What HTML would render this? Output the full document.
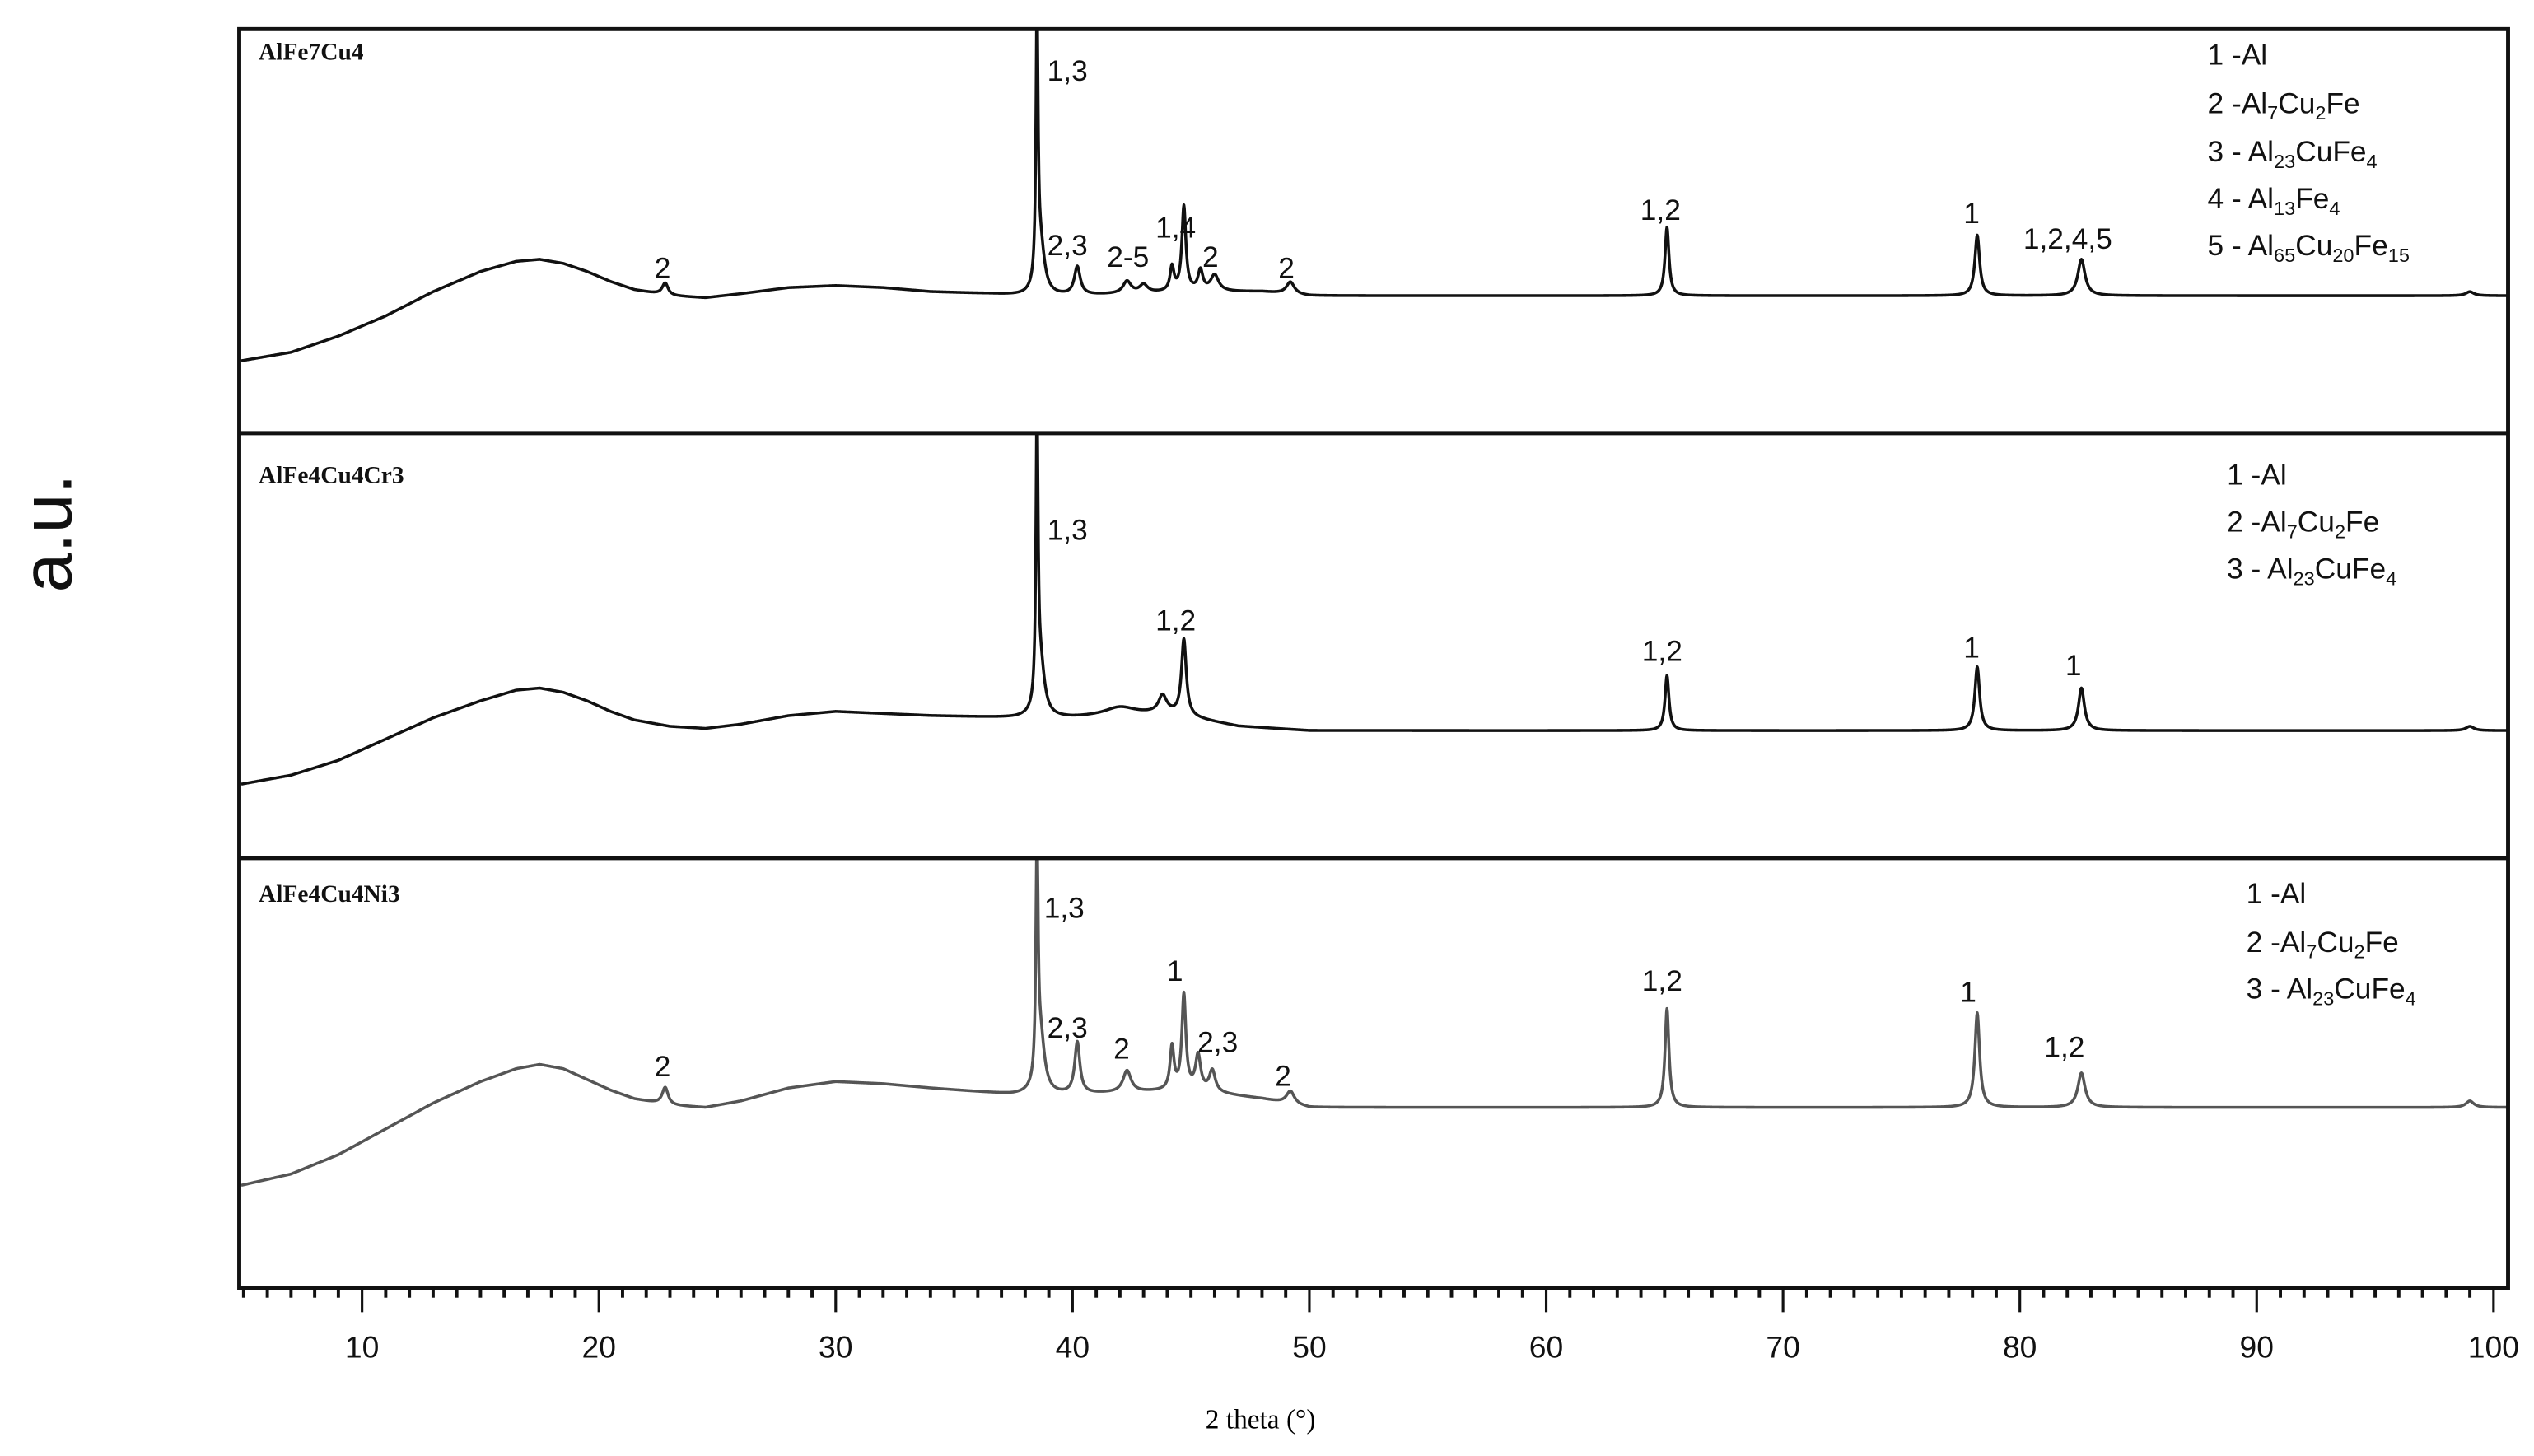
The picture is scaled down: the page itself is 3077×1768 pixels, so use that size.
<!DOCTYPE html>
<html><head><meta charset="utf-8"><style>
html,body{margin:0;padding:0;background:#fff}
svg{display:block}
.lbl{font-family:"Liberation Sans",sans-serif;font-size:18px;fill:#111}
.leg{font-family:"Liberation Sans",sans-serif;font-size:18px;fill:#111}
.ttl{font-family:"Liberation Serif",serif;font-weight:bold;font-size:15px;fill:#111}
.tick{font-family:"Liberation Sans",sans-serif;font-size:19px;fill:#111}
</style></head><body>
<svg id="chart" width="3077" height="1768" viewBox="0 0 1568 901" xmlns="http://www.w3.org/2000/svg">
<rect x="0" y="0" width="1568" height="901" fill="#fff"/>
<g id="curves"></g>
<g id="frames" fill="none" stroke="#111" stroke-width="2.5">
<rect x="148" y="18" width="1404" height="779"/>
<line x1="148" y1="268" x2="1552" y2="268"/>
<line x1="148" y1="531" x2="1552" y2="531"/>
</g>
<g id="ticks"></g>
<text x="780" y="884" text-anchor="middle" font-family="Liberation Serif,serif" font-size="17">2 theta (°)</text>
<text transform="translate(44,330) rotate(-90)" text-anchor="middle" font-family="Liberation Sans,sans-serif" font-size="44" fill="#111">a.u.</text>

<text class="ttl" x="160" y="37">AlFe7Cu4</text>
<text class="ttl" x="160" y="299">AlFe4Cu4Cr3</text>
<text class="ttl" x="160" y="558">AlFe4Cu4Ni3</text>

<g>
<text class="lbl" x="405" y="172">2</text><text class="lbl" x="648" y="50">1,3</text>
<text class="lbl" x="648" y="158">2,3</text><text class="lbl" x="685" y="165">2-5</text>
<text class="lbl" x="715" y="147">1,4</text><text class="lbl" x="744" y="165">2</text>
<text class="lbl" x="791" y="172">2</text><text class="lbl" x="1015" y="136">1,2</text>
<text class="lbl" x="1215" y="138">1</text><text class="lbl" x="1252" y="154">1,2,4,5</text>
</g>
<g>
<text class="leg" x="1366" y="40">1 -Al</text>
<text class="leg" x="1366" y="70">2 -Al<tspan font-size="12" dy="4">7</tspan><tspan dy="-4">Cu</tspan><tspan font-size="12" dy="4">2</tspan><tspan dy="-4">Fe</tspan></text>
<text class="leg" x="1366" y="100">3 - Al<tspan font-size="12" dy="4">23</tspan><tspan dy="-4">CuFe</tspan><tspan font-size="12" dy="4">4</tspan></text>
<text class="leg" x="1366" y="129">4 - Al<tspan font-size="12" dy="4">13</tspan><tspan dy="-4">Fe</tspan><tspan font-size="12" dy="4">4</tspan></text>
<text class="leg" x="1366" y="158">5 - Al<tspan font-size="12" dy="4">65</tspan><tspan dy="-4">Cu</tspan><tspan font-size="12" dy="4">20</tspan><tspan dy="-4">Fe</tspan><tspan font-size="12" dy="4">15</tspan></text>
</g>
<g>
<text class="lbl" x="648" y="334">1,3</text><text class="lbl" x="715" y="390">1,2</text>
<text class="lbl" x="1016" y="409">1,2</text><text class="lbl" x="1215" y="407">1</text>
<text class="lbl" x="1278" y="418">1</text>
</g>
<g>
<text class="leg" x="1378" y="300">1 -Al</text>
<text class="leg" x="1378" y="329">2 -Al<tspan font-size="12" dy="4">7</tspan><tspan dy="-4">Cu</tspan><tspan font-size="12" dy="4">2</tspan><tspan dy="-4">Fe</tspan></text>
<text class="leg" x="1378" y="358">3 - Al<tspan font-size="12" dy="4">23</tspan><tspan dy="-4">CuFe</tspan><tspan font-size="12" dy="4">4</tspan></text>
</g>
<g>
<text class="lbl" x="405" y="666">2</text><text class="lbl" x="646" y="568">1,3</text>
<text class="lbl" x="648" y="642">2,3</text><text class="lbl" x="689" y="655">2</text>
<text class="lbl" x="722" y="607">1</text><text class="lbl" x="741" y="651">2,3</text>
<text class="lbl" x="789" y="672">2</text><text class="lbl" x="1016" y="613">1,2</text>
<text class="lbl" x="1213" y="620">1</text><text class="lbl" x="1265" y="654">1,2</text>
</g>
<g>
<text class="leg" x="1390" y="559">1 -Al</text>
<text class="leg" x="1390" y="589">2 -Al<tspan font-size="12" dy="4">7</tspan><tspan dy="-4">Cu</tspan><tspan font-size="12" dy="4">2</tspan><tspan dy="-4">Fe</tspan></text>
<text class="leg" x="1390" y="618">3 - Al<tspan font-size="12" dy="4">23</tspan><tspan dy="-4">CuFe</tspan><tspan font-size="12" dy="4">4</tspan></text>
</g>
</svg>
<script>
const tickLabels=[10,20,30,40,50,60,70,80,90,100];
const bg1=[[5,18],[7,20],[9,24],[11,29],[13,35],[15,40],[16.5,42.5],[17.5,43],[18.5,42],[19.5,40],[20.5,37.5],[21.5,35.5],[23,34],[24.5,33.5],[26,34.5],[28,36],[30,36.5],[32,36],[34,35],[36.5,34.5],[38,34],[40,34],[45,35],[48,35],[50,34],[100,34]];
const peaks1=[[22.8,3,0.15],[38.5,70,0.05],[38.65,12,0.2],[40.2,7,0.15],[42.3,3,0.2],[43.0,2,0.2],[44.2,6,0.1],[44.7,21,0.1],[45.4,5,0.12],[46.0,4,0.2],[49.2,3,0.2],[65.1,17,0.1],[78.2,15,0.12],[82.6,9,0.18],[99,1,0.2]];
const bg2=[[5,17.5],[7,19.5],[9,23],[11,28],[13,33],[15,37],[16.5,39.5],[17.5,40],[18.5,39],[19.5,37],[20.5,34.5],[21.5,32.5],[23,31],[24.5,30.5],[26,31.5],[28,33.5],[30,34.5],[32,34],[34,33.5],[37.5,33],[40,33],[44,34],[47,31],[50,30],[100,30]];
const peaks2=[[38.5,72,0.05],[38.65,12,0.2],[42,2,0.8],[43.8,4,0.2],[44.7,18,0.12],[65.1,13,0.1],[78.2,15,0.12],[82.6,10,0.15],[99,1,0.2]];
const bg3=[[5,24],[7,26.5],[9,31],[11,37],[13,43],[15,48],[16.5,51],[17.5,52],[18.5,51],[19.5,48.5],[20.5,46],[21.5,44],[23,42.5],[24.5,42],[26,43.5],[28,46.5],[30,48],[32,47.5],[34,46.5],[37.5,45],[40,45],[45,46],[48,44],[50,42],[100,42]];
const peaks3=[[22.8,4,0.15],[38.5,60,0.05],[38.65,13,0.2],[40.2,12,0.13],[42.3,5,0.2],[44.2,10,0.1],[44.7,22,0.1],[45.3,8,0.13],[45.9,5,0.15],[49.2,3,0.2],[65.1,23,0.1],[78.2,22,0.12],[82.6,8,0.18],[99,1.5,0.2]];

const NS='http://www.w3.org/2000/svg';
function xs(t){return 224+(t-10)*(1543-224)/90;}
function interp(bg,t){for(let i=0;i<bg.length-1;i++){if(t<=bg[i+1][0]){const f=(t-bg[i][0])/(bg[i+1][0]-bg[i][0]);return bg[i][1]+f*(bg[i+1][1]-bg[i][1]);}}return bg[bg.length-1][1];}
const panels=[{bg:bg1,pk:peaks1,top:18,bot:268,col:'#111',name:'series-alfe7cu4'},{bg:bg2,pk:peaks2,top:268,bot:531,col:'#111',name:'series-alfe4cu4cr3'},{bg:bg3,pk:peaks3,top:531,bot:797,col:'#555',name:'series-alfe4cu4ni3'}];
const cg=document.getElementById('curves');
panels.forEach(p=>{
  let d='';
  for(let t=4.9;t<=100.6;t+=0.02){
    let v=interp(p.bg,t);
    p.pk.forEach(k=>{const u=(t-k[0])/k[2];v+=k[1]/(1+u*u);});
    v=Math.min(v,100);
    const y=p.bot-v/100*(p.bot-p.top);
    d+=(d?'L':'M')+xs(t).toFixed(2)+','+y.toFixed(2);
  }
  const path=document.createElementNS(NS,'path');
  path.setAttribute('d',d);path.setAttribute('fill','none');path.setAttribute('stroke',p.col);path.setAttribute('stroke-width','1.8');path.setAttribute('stroke-linejoin','round');
  
  
  cg.appendChild(path);
});
const tg=document.getElementById('ticks');
for(let t=5;t<=100;t++){
  const l=document.createElementNS(NS,'line');
  const major=t%10===0;
  l.setAttribute('x1',xs(t));l.setAttribute('x2',xs(t));l.setAttribute('y1',797);l.setAttribute('y2',major?812:803);
  l.setAttribute('stroke','#111');l.setAttribute('stroke-width',major?1.6:2);
  
  
  tg.appendChild(l);
}
tickLabels.forEach(v=>{
  const tx=document.createElementNS(NS,'text');
  tx.setAttribute('x',xs(v));tx.setAttribute('y',840);tx.setAttribute('text-anchor','middle');tx.setAttribute('class','tick');
  tx.textContent=v;
  
  
  tg.appendChild(tx);
});
</script>
</body></html>
